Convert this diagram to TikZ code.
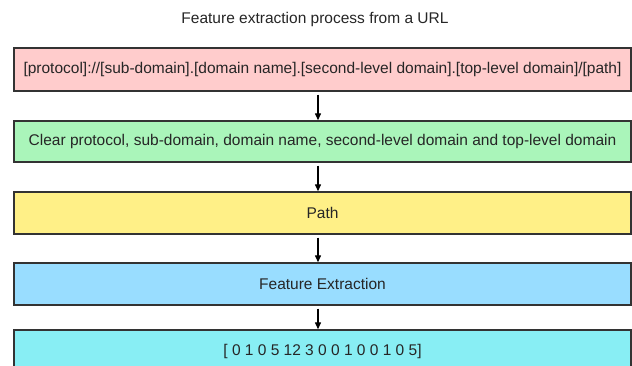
\documentclass[tikz,border=0pt]{standalone}
\usepackage{fontspec}
\setmainfont{Liberation Sans}
\usetikzlibrary{arrows.meta,calc}
\definecolor{urlpink}{HTML}{FFCCCC}
\definecolor{cleargreen}{HTML}{AAF5BA}
\definecolor{pathyellow}{HTML}{FFF087}
\definecolor{featblue}{HTML}{99DDFF}
\definecolor{vecteal}{HTML}{88EEF4}
\definecolor{edge}{HTML}{333333}
\tikzset{
  stagebox/.style={draw=edge, line width=1.4pt, minimum width=617pt, inner sep=0pt,
    font=\fontsize{15.5}{18}\selectfont, text=black!85},
  flow/.style={draw=black, line width=1.3pt, -{Triangle[length=7pt,width=6pt]}},
}
\begin{document}
\begin{tikzpicture}[x=1pt,y=1pt]
  \useasboundingbox (0,0) rectangle (632,-366);
  \clip (0,0) rectangle (632,-366);
  \fill[white] (0,0) rectangle (632,-366);
  \node[font=\fontsize{15.5}{18}\selectfont, text=black!85] (title) at (315,-19) {Feature extraction process from a URL};
  \node[stagebox, fill=urlpink, minimum height=43pt] (b1) at (322.5,-69.5)
    {[protocol]://[sub-domain].[domain name].[second-level domain].[top-level domain]/[path]};
  \node[stagebox, fill=cleargreen, minimum height=41pt] (b2) at (322.5,-141.5)
    {Clear protocol, sub-domain, domain name, second-level domain and top-level domain};
  \node[stagebox, fill=pathyellow, minimum height=42pt] (b3) at (322.5,-213) {Path};
  \node[stagebox, fill=featblue, minimum height=42pt] (b4) at (322.5,-284) {Feature Extraction};
  \node[stagebox, fill=vecteal, minimum height=42pt] (b5) at (322.5,-351) {[ 0 1 0 5 12 3 0 0 1 0 0 1 0 5]};
  \foreach \a/\b in {b1/b2,b2/b3,b3/b4,b4/b5}
    \draw[flow] ($(\a.south)+(-4.5,-3)$) -- ($(\b.north)+(-4.5,0)$);
\end{tikzpicture}
\end{document}
